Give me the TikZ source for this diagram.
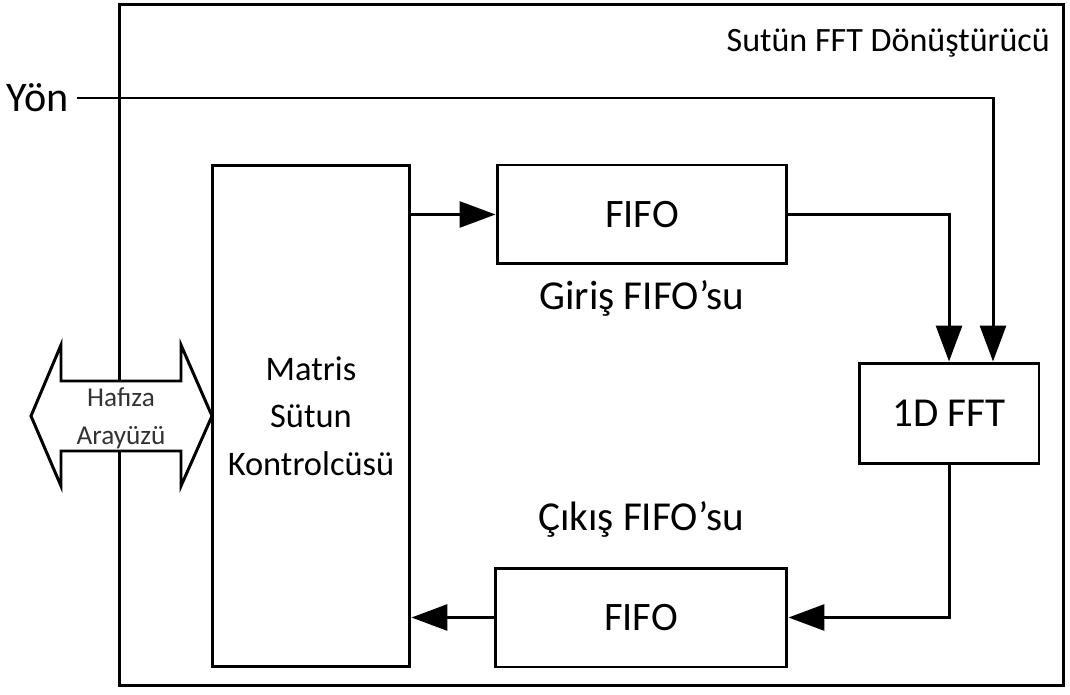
\documentclass[tikz,border=0pt]{standalone}
\usepackage{fontspec}
\setmainfont{Carlito}
\usetikzlibrary{arrows.meta, positioning}

\begin{document}
\begin{tikzpicture}[x=0.02cm, y=-0.02cm, line width=1.7pt,
  blk/.style={draw, inner sep=0pt, align=center, font=\fontsize{23}{27}\selectfont},
  lbl/.style={anchor=base, inner sep=0pt, font=\fontsize{23.4}{28}\selectfont},
  arr/.style={-{Triangle[length=0.72cm, width=0.52cm]}}]

\useasboundingbox (0,0) rectangle (1070,695);

\node[draw, minimum width=18.9cm, minimum height=13.64cm] (conv) at (591.5,345) {};
\node[anchor=base east, inner sep=0pt, font=\fontsize{19.4}{23}\selectfont] (title) at ([xshift=-0.28cm, yshift=-0.98cm]conv.north east) {Sutün FFT Dönüştürücü};

% memory interface
\draw[fill=white] (31,416) -- (61,345) -- (61,381) -- (181,381) -- (181,345) -- (212,416)
  -- (181,486) -- (181,451) -- (61,451) -- (61,486) -- cycle;
\node[font=\fontsize{15.5}{21.5}\selectfont, text=black!80, align=center, inner sep=0pt] (mem) at (121,418) {Hafıza\\Arayüzü};

\node[blk, minimum width=3.96cm, minimum height=10.04cm, font=\fontsize{19.6}{27}\selectfont] (matris) at (311,416) {Matris\\Sütun\\Kontrolcüsü};
\node[blk, minimum width=5.8cm, minimum height=1.98cm] (fifoin) at (642,214.5) {FIFO};
\node[blk, minimum width=5.84cm, minimum height=1.98cm] (fifoout) at (641,617.5) {FIFO};
\node[blk, minimum width=3.6cm, minimum height=2.02cm, font=\fontsize{23.4}{28}\selectfont] (fft) at (949,413.5) {1D FFT};

\node[lbl] (girislbl) at ([yshift=-0.88cm]fifoin.south) {Giriş FIFO’su};
\node[lbl] (cikislbl) at ([yshift=0.72cm]fifoout.north) {Çıkış FIFO’su};

\node[anchor=east, inner xsep=0.14cm, inner ysep=0pt, font=\fontsize{24}{28}\selectfont] (yon) at (77,98) {Yön};
\coordinate (fftyon) at ([xshift=0.88cm]fft.north);

\draw[arr] (fifoin.west -| matris.east) -- (fifoin.west);
\draw[arr] (fifoin.east) -| (fft.north);
\draw[arr] (yon.east) -| (fftyon);
\draw[arr] (fft.south) |- (fifoout.east);
\draw[arr] (fifoout.west) -- (fifoout.west -| matris.east);
\end{tikzpicture}
\end{document}
